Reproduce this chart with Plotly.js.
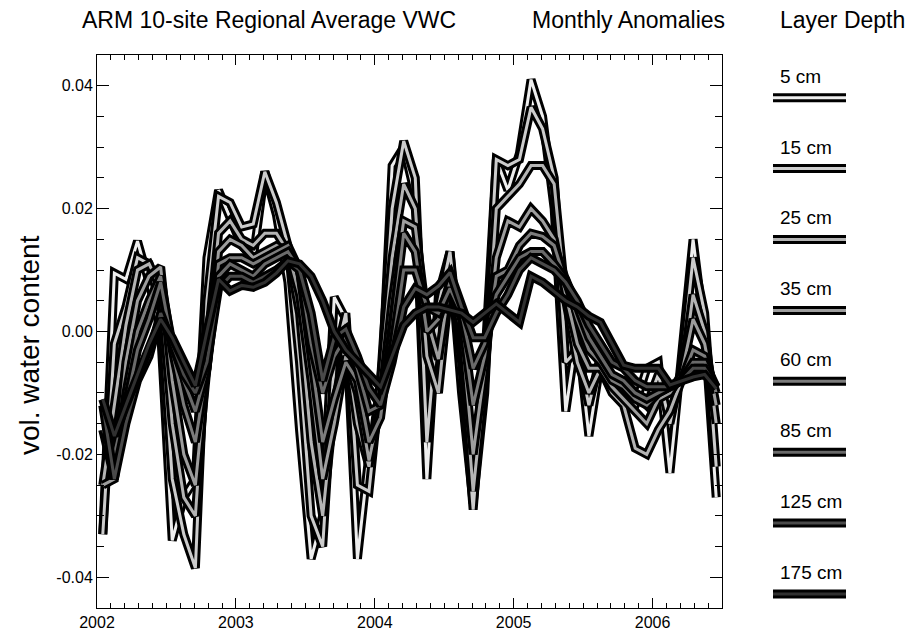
<!DOCTYPE html>
<html>
<head>
<meta charset="utf-8">
<script src="https://cdn.plot.ly/plotly-3.0.1.min.js"></script>
<style>html,body{margin:0;padding:0;background:#fff;}#chart{width:910px;height:637px;}</style>
</head>
<body>
<div id="chart"></div>
<script>
// ---- data ----
const depths = ['5 cm','15 cm','25 cm','35 cm','60 cm','85 cm','125 cm','175 cm'];
// monthly anomalies Jan 2002 .. Jun 2006 (54 months)
const vwc5 = [-0.033,0.0095,0.0085,0.0147,0.008,0.000,-0.034,-0.027,-0.024,0.012,0.023,0.0185,
  0.014,0.012,0.026,0.019,0.008,-0.016,-0.037,-0.030,0.0056,0.002,-0.037,-0.020,
  -0.012,0.027,0.030,0.022,-0.024,0.006,0.013,-0.010,-0.028,-0.010,0.028,0.023,
  0.029,0.041,0.035,0.020,-0.013,0.000,-0.017,-0.005,-0.008,-0.010,-0.012,-0.006,
  -0.005,-0.023,-0.005,0.015,0.000,-0.027];
const vwc15 = [-0.033,-0.002,0.004,0.012,0.011,0.004,-0.024,-0.033,-0.0385,0.005,0.022,0.021,
  0.017,0.0175,0.026,0.021,0.014,-0.005,-0.030,-0.035,-0.005,0.003,-0.025,-0.026,
  -0.008,0.020,0.031,0.025,-0.018,0.004,0.013,-0.005,-0.029,-0.005,0.028,0.027,
  0.028,0.0365,0.033,0.025,-0.005,-0.003,-0.012,-0.004,-0.008,-0.008,-0.010,-0.012,
  -0.007,-0.015,-0.006,0.012,0.003,-0.022];
const vwc25 = [-0.025,-0.012,0.001,0.010,0.011,0.007,-0.015,-0.027,-0.030,-0.003,0.016,0.018,
  0.015,0.014,0.016,0.016,0.013,0.003,-0.018,-0.030,-0.012,-0.002,-0.015,-0.022,
  -0.008,0.012,0.024,0.020,-0.004,-0.010,0.008,-0.002,-0.026,-0.008,0.020,0.022,
  0.024,0.027,0.027,0.024,0.005,-0.005,-0.010,-0.006,-0.010,-0.012,-0.019,-0.020,
  -0.016,-0.013,-0.008,0.006,0.000,-0.015];
const vwc35 = [-0.025,-0.024,-0.005,0.005,0.009,0.0105,-0.008,-0.020,-0.025,-0.006,0.013,0.015,
  0.014,0.012,0.013,0.014,0.013,0.006,-0.008,-0.024,-0.015,-0.004,-0.010,-0.021,
  -0.012,0.005,0.018,0.017,0.002,-0.0045,0.008,0.000,-0.020,-0.006,0.012,0.018,
  0.017,0.020,0.018,0.015,0.006,-0.002,-0.006,-0.006,-0.009,-0.011,-0.013,-0.015,
  -0.011,-0.010,-0.007,0.002,-0.002,-0.012];
const vwc60 = [-0.016,-0.024,-0.010,0.000,0.005,0.009,-0.003,-0.012,-0.018,-0.006,0.011,0.012,
  0.012,0.011,0.012,0.013,0.014,0.010,-0.004,-0.018,-0.011,-0.005,-0.008,-0.018,
  -0.014,0.000,0.016,0.013,0.000,0.002,0.008,0.002,-0.012,-0.004,0.009,0.010,
  0.014,0.016,0.0155,0.014,0.008,0.002,-0.003,-0.005,-0.008,-0.009,-0.011,-0.012,
  -0.010,-0.009,-0.008,-0.003,-0.004,-0.010];
const vwc85 = [-0.016,-0.020,-0.012,-0.003,0.002,0.008,-0.002,-0.008,-0.013,-0.006,0.009,0.011,
  0.010,0.009,0.011,0.012,0.013,0.010,-0.002,-0.010,-0.004,-0.001,-0.006,-0.013,
  -0.012,-0.003,0.010,0.010,0.004,0.003,0.007,0.003,-0.006,-0.002,0.006,0.009,
  0.012,0.013,0.013,0.011,0.0085,0.004,-0.001,-0.004,-0.007,-0.008,-0.010,-0.011,
  -0.010,-0.009,-0.008,-0.005,-0.005,-0.009];
const vwc125 = [-0.012,-0.024,-0.015,-0.008,-0.004,0.003,-0.002,-0.007,-0.010,-0.005,0.007,0.009,
  0.009,0.008,0.009,0.010,0.0115,0.010,0.003,-0.008,-0.001,0.0004,-0.004,-0.0093,
  -0.012,-0.005,0.004,0.007,0.006,0.0074,0.0096,0.004,-0.001,-0.001,0.003,0.006,
  0.010,0.012,0.011,0.010,0.008,0.005,0.001,-0.002,-0.005,-0.006,-0.008,-0.009,
  -0.009,-0.009,-0.008,-0.006,-0.006,-0.009];
const vwc175 = [-0.011,-0.017,-0.012,-0.007,-0.002,0.002,-0.001,-0.005,-0.0088,0.000,0.0085,0.0066,
  0.0075,0.0072,0.008,0.0095,0.0115,0.011,0.009,0.005,0.000,-0.003,-0.005,-0.007,
  -0.009,-0.004,0.001,0.003,0.004,0.004,0.0035,0.003,0.0015,0.003,0.0045,0.003,
  0.0015,0.009,0.008,0.0065,0.005,0.004,0.0025,0.0015,-0.002,-0.0055,-0.006,-0.006,
  -0.006,-0.0087,-0.008,-0.0074,-0.007,-0.0093];
const yearTicks = [2002,2003,2004,2005,2006];
const yearLabels = ['2002','2003','2004','2005','2006'];
const vTicks = [-0.04,-0.02,0,0.02,0.04];
const vLabels = ['-0.04','-0.02','0.00','0.02','0.04'];

// ---- time axis: mid-month positions in decimal years ----
const months = [];
for (let y = 2002; y <= 2006; y++) {
  for (let m = 1; m <= 12; m++) {
    if (y === 2006 && m > 6) break;
    months.push(y + (m - 0.5) / 12);
  }
}

// ---- styles ----
const series = [vwc5, vwc15, vwc25, vwc35, vwc60, vwc85, vwc125, vwc175];
const inner = ['#eeeeee','#cccccc','#b4b4b4','#9e9e9e','#7c7c7c','#6a6a6a','#4a4a4a','#303030'];
const OUTER_W = 9, INNER_W = 3;

const traces = [];
series.forEach((vals, k) => {
  traces.push({x: months, y: vals, type: 'scatter', mode: 'lines', name: depths[k],
    line: {color: '#000000', width: OUTER_W}, hoverinfo: 'skip', showlegend: false});
  traces.push({x: months, y: vals, type: 'scatter', mode: 'lines', name: depths[k],
    line: {color: inner[k], width: INNER_W}, showlegend: false});
});

// legend swatches & labels (paper coords)
const L = 97, R = 722, T = 55, B = 608;
const W = R - L, H = B - T;
const px2x = p => (p - L) / W;
const py2y = p => (B - p) / H;
const shapes = [], annotations = [];
depths.forEach((d, k) => {
  const ly = 97.7 + k * 70.9;
  shapes.push({type: 'line', xref: 'paper', yref: 'paper', x0: px2x(773), x1: px2x(846),
    y0: py2y(ly), y1: py2y(ly), line: {color: '#000', width: OUTER_W}});
  shapes.push({type: 'line', xref: 'paper', yref: 'paper', x0: px2x(773), x1: px2x(846),
    y0: py2y(ly), y1: py2y(ly), line: {color: inner[k], width: INNER_W}});
  annotations.push({xref: 'paper', yref: 'paper', x: px2x(778), y: py2y(ly - 21.5),
    xanchor: 'left', yanchor: 'middle', showarrow: false, text: d,
    font: {family: 'Liberation Sans, Arial, sans-serif', size: 19, color: '#000'}});
});
const tFont = {family: 'Liberation Sans, Arial, sans-serif', size: 23, color: '#000'};
annotations.push({xref: 'paper', yref: 'paper', x: px2x(269), y: py2y(20), xanchor: 'center', yanchor: 'middle',
  showarrow: false, text: 'ARM 10-site Regional Average VWC', font: tFont});
annotations.push({xref: 'paper', yref: 'paper', x: px2x(628.5), y: py2y(20), xanchor: 'center', yanchor: 'middle',
  showarrow: false, text: 'Monthly Anomalies', font: tFont});
annotations.push({xref: 'paper', yref: 'paper', x: px2x(842.5), y: py2y(20), xanchor: 'center', yanchor: 'middle',
  showarrow: false, text: 'Layer Depth', font: tFont});
annotations.push({xref: 'paper', yref: 'paper', x: px2x(29), y: py2y(345), xanchor: 'center', yanchor: 'middle',
  textangle: -90, showarrow: false, text: 'vol. water content',
  font: {family: 'Liberation Sans, Arial, sans-serif', size: 28, color: '#000'}});

const tickFont = {family: 'Liberation Sans, Arial, sans-serif', size: 16, color: '#000'};
const layout = {
  width: 910, height: 637,
  margin: {l: L, r: 910 - R, t: T, b: 637 - B, pad: 0},
  paper_bgcolor: '#fff', plot_bgcolor: '#fff',
  showlegend: false,
  xaxis: {range: [2002, 2006.5], tickmode: 'array', tickvals: yearTicks, ticktext: yearLabels,
    ticks: 'inside', ticklen: 10, tickwidth: 1, tickcolor: '#000', showline: true, linecolor: '#000',
    linewidth: 1, mirror: 'ticks', showgrid: false, zeroline: false, tickfont: tickFont,
    minor: {dtick: 0.1, tick0: 2002, ticks: 'inside', ticklen: 5, tickcolor: '#000', showgrid: false}},
  yaxis: {range: [-0.045, 0.045], tickmode: 'array', tickvals: vTicks, ticktext: vLabels,
    ticks: 'inside', ticklen: 12, tickwidth: 1, tickcolor: '#000', showline: true, linecolor: '#000',
    linewidth: 1, mirror: 'ticks', showgrid: false, zeroline: false, tickfont: tickFont,
    minor: {dtick: 0.005, tick0: 0, ticks: 'inside', ticklen: 7, tickcolor: '#000', showgrid: false}},
  shapes: shapes,
  annotations: annotations
};
Plotly.newPlot('chart', traces, layout, {staticPlot: true, displayModeBar: false});
</script>
</body>
</html>
